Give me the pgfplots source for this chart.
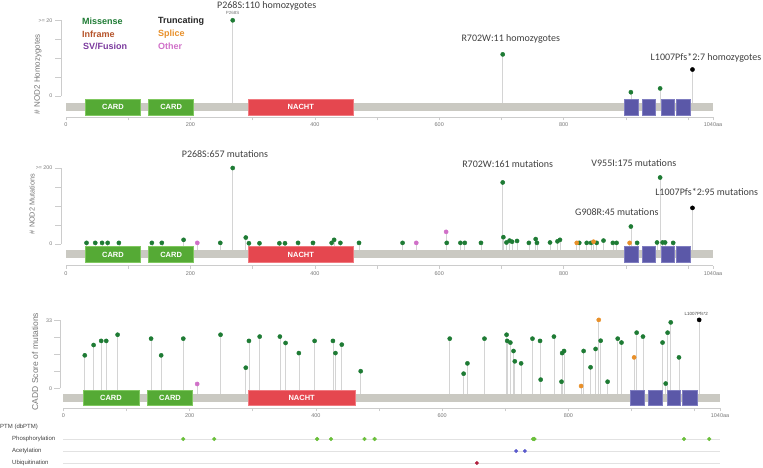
\documentclass[border=0pt]{standalone}
\usepackage{fontspec}
\setmainfont{Liberation Sans}
\newfontfamily\calib{Carlito}
\usepackage{pgfplots}
\pgfplotsset{compat=1.18}
\usepackage{pgfplotstable}

\definecolor{miss}{HTML}{1E7B34}
\definecolor{splice}{HTML}{E8902A}
\definecolor{other}{HTML}{D070C8}
\definecolor{inframe}{HTML}{B5532A}
\definecolor{svfus}{HTML}{7B3A9E}
\definecolor{stem}{HTML}{D4D4D4}
\definecolor{bbone}{HTML}{CAC9C2}
\definecolor{card}{HTML}{55AA35}
\definecolor{cardedge}{HTML}{80C860}
\definecolor{nacht}{HTML}{E5474F}
\definecolor{nachtedge}{HTML}{F07A80}
\definecolor{lrr}{HTML}{5B58A8}
\definecolor{lrredge}{HTML}{7F7DC0}
\definecolor{axgray}{HTML}{CCCCCC}
\definecolor{tickgray}{HTML}{777777}
\definecolor{annot}{HTML}{404040}
\definecolor{phos}{HTML}{6ABF3A}
\definecolor{acet}{HTML}{5A5ACC}
\definecolor{ubiq}{HTML}{B0203F}
\definecolor{ptmline}{HTML}{E2E2E2}

% class c: 1 missense, 2 truncating, 3 splice, 4 other

% homozygotes per variant (capped at 20)
\pgfplotstableread{
x y c
268 20 1
702 11 1
908 1 1
955 2 1
1007 7 2
}\homoz

% mutation counts (capped at 200)
\pgfplotstableread{
x y c
33 3 1
47 3 1
58 3 1
67 3 1
85 3 1
138 3 1
154 3 1
189 11 1
211 3 4
248 3 1
268 200 1
289 17 1
294 2 1
311 2 1
343 2 1
352 2 1
373 3 1
397 3 1
427 3 1
431 11 1
441 3 1
471 3 1
541 3 1
563 3 4
611 32 4
612 3 1
634 3 1
641 3 1
667 3 1
702 162 1
703 18 1
708 4 1
713 9 1
717 6 1
725 8 1
744 3 1
755 13 1
757 3 1
778 4 1
790 7 1
794 11 1
821 3 3
825 3 1
837 3 1
844 3 1
848 6 3
853 3 1
864 9 1
879 3 1
885 3 1
906 3 3
908 46 1
918 3 1
950 4 1
955 175 1
959 4 1
963 4 1
976 3 1
1007 95 2
}\muts

% CADD scores
\pgfplotstableread{
x y c
34 16 1
48 21 1
60 23 1
68 23 1
86 26 1
139 24.1 1
155 16 1
190 24.1 1
212 2.1 4
249 26 1
289 10 1
294 23 1
311 25.1 1
343 25.1 1
352 22 1
373 17.1 1
398 23 1
427 23 1
431 17.1 1
441 21.2 1
471 8.3 1
612 24.1 1
634 7.1 1
640 12.1 1
667 24.1 1
702 26 1
703 23 1
708 22.2 1
713 18.1 1
715 13.1 1
725 12.1 1
743 24.1 1
755 23 1
756 4.2 1
777 25.1 1
789 3.2 1
790 17.1 1
793 18.1 1
820 1.1 3
824 18.1 1
835 10.2 1
843 19.1 1
848 33.2 3
851 23.1 1
862 3.2 1
878 24.1 1
884 22.2 1
904 15 3
908 27 1
918 25.1 1
949 22.2 1
954 2.3 1
957 27 1
962 32 1
975 15 1
1007 33.2 2
}\cadd

\pgfplotstableread{
x y
190 3
239 3
402 3
424 3
477 3
493 3
744 3
746 3
983 3
1023 3
}\phosT
\pgfplotstableread{
x y
717 2
731 2
}\acetT
\pgfplotstableread{
x y
655 1
}\ubiqT

\tikzset{
  dname/.style={font=\fontsize{7.5}{8}\selectfont\bfseries, text=white},
  ylab/.style={font=\fontsize{5.3}{6}\selectfont, text=tickgray, anchor=east, inner sep=0pt},
}
\pgfplotsset{
  lolli/.style={
    scale only axis, clip=false,
    xmin=0, xmax=1040,
    axis x line=bottom, axis y line=none,
    x axis line style={-, draw=axgray, line width=0.6pt},
    xtick={0,100,200,300,400,500,600,700,800,900,1000,1040},
    xticklabels={0,,200,,400,,600,,800,,,1040aa},
    xtick style={draw=axgray, line width=0.6pt},
    tick align=outside, major tick length=3pt,
    xticklabel style={font=\fontsize{5.5}{6}\selectfont, text=tickgray, inner sep=1pt, yshift=-1.5pt},
    ytick=\empty,
  },
  stems/.style={draw=none, mark=none, forget plot,
    error bars/y dir=minus, error bars/y explicit, error bars/error mark=none,
    error bars/error bar style={draw=stem, solid, line width=0.6pt}},
  lollimark/.style={only marks, mark=*, mark size=2.1pt, color=#1},
}

% protein track: backbone top/bottom, domain top/bottom
\newcommand{\track}[4]{%
  \fill[bbone] (axis cs:0,#1) rectangle (axis cs:1040,#2);
  \filldraw[fill=card, draw=cardedge, line width=0.6pt] (axis cs:31,#3) rectangle (axis cs:120,#4);
  \filldraw[fill=card, draw=cardedge, line width=0.6pt] (axis cs:133,#3) rectangle (axis cs:205,#4);
  \filldraw[fill=nacht, draw=nachtedge, line width=0.6pt] (axis cs:293,#3) rectangle (axis cs:462,#4);
  \filldraw[fill=lrr, draw=lrredge, line width=0.6pt] (axis cs:898,#3) rectangle (axis cs:920,#4);
  \filldraw[fill=lrr, draw=lrredge, line width=0.6pt] (axis cs:927,#3) rectangle (axis cs:948,#4);
  \filldraw[fill=lrr, draw=lrredge, line width=0.6pt] (axis cs:957,#3) rectangle (axis cs:977,#4);
  \filldraw[fill=lrr, draw=lrredge, line width=0.6pt] (axis cs:981,#3) rectangle (axis cs:1004,#4);
  \node[dname] at (axis cs:75.5,{(#3+#4)/2}) {CARD};
  \node[dname] at (axis cs:169,{(#3+#4)/2}) {CARD};
  \node[dname] at (axis cs:377.5,{(#3+#4)/2}) {NACHT};
}

% the four mutation classes of one table
\newcommand{\lollidots}[1]{%
  \addplot[lollimark=miss, restrict expr to domain={\thisrow{c}}{1:1}] table[x=x, y=y] {#1};
  \addplot[lollimark=black, restrict expr to domain={\thisrow{c}}{2:2}] table[x=x, y=y] {#1};
  \addplot[lollimark=splice, restrict expr to domain={\thisrow{c}}{3:3}] table[x=x, y=y] {#1};
  \addplot[lollimark=other, restrict expr to domain={\thisrow{c}}{4:4}] table[x=x, y=y] {#1};
}

\begin{document}
\begin{tikzpicture}
\useasboundingbox (0pt,0pt) rectangle (763pt,-467pt);

% ---- panel 1: homozygotes
\begin{axis}[lolli, at={(66pt,-117.3pt)}, anchor=south west,
  width=647pt, height=97pt, ymin=-5.63, ymax=20]
  \addplot[stems] table[x=x, y=y, y error expr=\thisrow{y}+1.93] {\homoz};
  \lollidots{\homoz}
  \track{-1.93}{-3.96}{-0.79}{-5.02}
  \draw[axgray, line width=0.6pt] ([xshift=-5pt]axis cs:0,0) -- ([xshift=-5pt]axis cs:0,20);
  \pgfplotsinvokeforeach{0,5,10,15,20}{
    \draw[axgray, line width=0.6pt] ([xshift=-5pt]axis cs:0,#1) -- ([xshift=-11pt]axis cs:0,#1);}
  \node[ylab] at ([xshift=-13.5pt]axis cs:0,0) {0};
  \node[ylab] at ([xshift=-13.5pt]axis cs:0,20) {>= 20};
  \node[font=\fontsize{4.5}{5}\selectfont, text=tickgray] at ([yshift=7pt]axis cs:268,20) {P268S};
\end{axis}

% ---- panel 2: mutations
\begin{axis}[lolli, at={(66pt,-265.7pt)}, anchor=south west,
  width=647pt, height=97.7pt, ymin=-57.1, ymax=200]
  \addplot[stems] table[x=x, y=y, y error expr=\thisrow{y}+15.8] {\muts};
  \lollidots{\muts}
  \track{-15.8}{-37.6}{-7.1}{-49.2}
  \draw[axgray, line width=0.6pt] ([xshift=-5pt]axis cs:0,0) -- ([xshift=-5pt]axis cs:0,200);
  \pgfplotsinvokeforeach{0,50,100,150,200}{
    \draw[axgray, line width=0.6pt] ([xshift=-5pt]axis cs:0,#1) -- ([xshift=-11pt]axis cs:0,#1);}
  \node[ylab] at ([xshift=-13.5pt]axis cs:0,0) {0};
  \node[ylab] at ([xshift=-13.5pt]axis cs:0,200) {>= 200};
\end{axis}

% ---- panel 3: CADD scores
\begin{axis}[lolli, at={(63.3pt,-408.3pt)}, anchor=south west,
  width=656.7pt, height=88pt, ymin=-9.71, ymax=33]
  \addplot[stems] table[x=x, y=y, y error expr=\thisrow{y}+2.91] {\cadd};
  \lollidots{\cadd}
  \track{-2.91}{-6.5}{-1.16}{-8.1}
  \draw[axgray, line width=0.6pt] ([xshift=-3.3pt]axis cs:0,0) -- ([xshift=-3.3pt]axis cs:0,33);
  \pgfplotsinvokeforeach{0,8.25,16.5,24.75,33}{
    \draw[axgray, line width=0.6pt] ([xshift=-3.3pt]axis cs:0,#1) -- ([xshift=-9.3pt]axis cs:0,#1);}
  \node[ylab] at ([xshift=-11pt]axis cs:0,0) {0};
  \node[ylab] at ([xshift=-11pt]axis cs:0,33) {33};
  \node[font=\fontsize{4.5}{5}\selectfont, text=annot] at ([xshift=-3pt,yshift=6pt]axis cs:1007,33.2) {L1007Pfs*2};
\end{axis}

% ---- PTM track
\begin{axis}[scale only axis, hide axis, clip=false,
  at={(63.3pt,-469pt)}, anchor=south west, width=656.7pt, height=36pt,
  xmin=0, xmax=1040, ymin=0.5, ymax=3.5]
  \addplot[ptmline, line width=0.7pt] coordinates {(0,3)(1040,3)};
  \addplot[ptmline, line width=0.7pt] coordinates {(0,2)(1040,2)};
  \addplot[ptmline, line width=0.7pt] coordinates {(0,1)(1040,1)};
  \addplot[only marks, mark=*, mark size=1.9pt, phos] table[x=x, y=y] {\phosT};
  \addplot[only marks, mark=*, mark size=1.7pt, acet] table[x=x, y=y] {\acetT};
  \addplot[only marks, mark=*, mark size=1.7pt, ubiq] table[x=x, y=y] {\ubiqT};
\end{axis}

% axis titles
\node[rotate=90, font=\fontsize{8}{9}\selectfont, text=tickgray] at (38pt,-74pt) {\# NOD2 Homozygotes};
\node[rotate=90, font=\fontsize{7.3}{8}\selectfont, text=tickgray] at (32pt,-204pt) {\# NOD2 Mutations};
\node[rotate=90, font=\fontsize{8.5}{9}\selectfont, text=tickgray] at (35pt,-361.5pt) {CADD Score of mutations};

% legend
\begin{scope}[every node/.style={anchor=west, inner sep=0pt, font=\fontsize{9}{10}\selectfont\bfseries}]
\node[text=miss] at (82pt,-21pt) {Missense};
\node[text=inframe] at (82pt,-34pt) {Inframe};
\node[text=svfus] at (83pt,-46pt) {SV/Fusion};
\node[text=black!85] at (158pt,-21pt) {Truncating};
\node[text=splice] at (158pt,-34pt) {Splice};
\node[text=other] at (158pt,-46pt) {Other};
\end{scope}

% annotations
\begin{scope}[every node/.style={font=\calib\fontsize{10}{11}\selectfont, text=annot, inner sep=0pt}]
\node at (266.7pt,-5.5pt) {P268S:110 homozygotes};
\node at (510.8pt,-39.3pt) {R702W:11 homozygotes};
\node at (706pt,-58.3pt) {L1007Pfs*2:7 homozygotes};
\node at (225pt,-154.3pt) {P268S:657 mutations};
\node at (507.7pt,-164pt) {R702W:161 mutations};
\node at (633.8pt,-162.7pt) {V955I:175 mutations};
\node at (706.7pt,-192.3pt) {L1007Pfs*2:95 mutations};
\node at (616.8pt,-212.3pt) {G908R:45 mutations};
\end{scope}

% PTM labels
\begin{scope}[every node/.style={anchor=west, inner sep=0pt, font=\fontsize{6}{7}\selectfont, text=black!75}]
\node at (0pt,-427pt) {PTM (dbPTM)};
\node at (12pt,-439pt) {Phosphorylation};
\node at (12pt,-451pt) {Acetylation};
\node at (12pt,-463pt) {Ubiquitination};
\end{scope}
\end{tikzpicture}
\end{document}
